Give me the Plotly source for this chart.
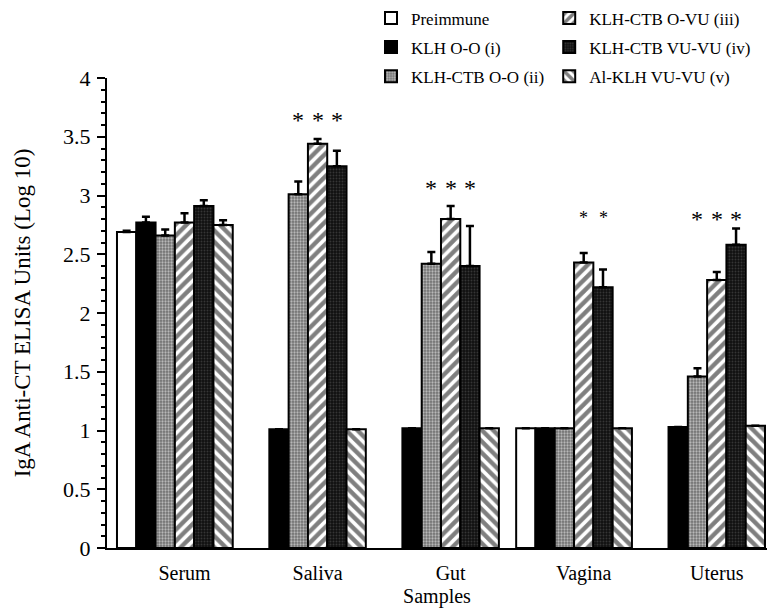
import plotly.graph_objects as go

categories = ["Serum", "Saliva", "Gut", "Vagina", "Uterus"]
series_names = ["Preimmune", "KLH O-O (i)", "KLH-CTB O-O (ii)",
                "KLH-CTB O-VU (iii)", "KLH-CTB VU-VU (iv)", "Al-KLH VU-VU (v)"]

preimmune = [2.69, None, None, 1.02, None]
klh_oo = [2.77, 1.01, 1.02, 1.02, 1.03]
ctb_oo = [2.66, 3.01, 2.42, 1.02, 1.46]
ctb_ovu = [2.77, 3.44, 2.80, 2.43, 2.28]
ctb_vuvu = [2.91, 3.25, 2.40, 2.22, 2.58]
al_vuvu = [2.75, 1.01, 1.02, 1.02, 1.04]

preimmune_err = [0.01, None, None, None, None]
klh_oo_err = [0.05, None, None, None, None]
ctb_oo_err = [0.05, 0.11, 0.10, None, 0.07]
ctb_ovu_err = [0.08, 0.04, 0.11, 0.08, 0.07]
ctb_vuvu_err = [0.05, 0.13, 0.34, 0.15, 0.14]
al_vuvu_err = [0.04, None, None, None, None]

# significance stars: (category index, series index, y, size)
stars = [(1, 2, 3.64, 24), (1, 3, 3.64, 24), (1, 4, 3.64, 24),
         (2, 2, 3.06, 24), (2, 3, 3.06, 24), (2, 4, 3.06, 24),
         (3, 3, 2.81, 18), (3, 4, 2.81, 18),
         (4, 2, 2.80, 24), (4, 3, 2.80, 24), (4, 4, 2.80, 24)]

values = [preimmune, klh_oo, ctb_oo, ctb_ovu, ctb_vuvu, al_vuvu]
errors = [preimmune_err, klh_oo_err, ctb_oo_err, ctb_ovu_err, ctb_vuvu_err, al_vuvu_err]

styles = [
    dict(color="white", pattern=dict(shape="")),
    dict(color="black", pattern=dict(shape="")),
    dict(color="#a0a0a0", pattern=dict(shape=".", fgcolor="white", bgcolor="#707070", size=3, solidity=0.45)),
    dict(color="white", pattern=dict(shape="/", fgcolor="black", bgcolor="white", size=8, solidity=0.55)),
    dict(color="#202020", pattern=dict(shape=".", fgcolor="#5a5a5a", bgcolor="#111111", size=3, solidity=0.3)),
    dict(color="white", pattern=dict(shape="\\", fgcolor="black", bgcolor="white", size=8, solidity=0.55)),
]

FONT = "Liberation Serif"
xs = list(range(len(categories)))
bargap = 0.13
n = len(series_names)
w = (1 - bargap) / n

fig = go.Figure()
for j, (name, vals, errs, st) in enumerate(zip(series_names, values, errors, styles)):
    fig.add_trace(go.Bar(
        x=xs, y=vals, name=name,
        marker=dict(color=st["color"], pattern=st["pattern"],
                    line=dict(color="black", width=2)),
        error_y=dict(type="data", array=errs, arrayminus=[0] * len(errs),
                     symmetric=False, color="black", thickness=2.5, width=4),
        legend="legend" if j < 3 else "legend2",
        legendgroup=name,
    ))

for (ci, sj, yv, sz) in stars:
    fig.add_annotation(x=ci + (sj - (n - 1) / 2) * w, y=yv, text="*",
                       showarrow=False, font=dict(family=FONT, size=sz, color="black"),
                       xref="x", yref="y")

fig.update_layout(
    width=767, height=608,
    margin=dict(l=107, r=0, t=75, b=60),
    paper_bgcolor="white", plot_bgcolor="white",
    barmode="group", bargap=bargap, bargroupgap=0,
    font=dict(family=FONT, color="black", size=16),
    legend=dict(x=0.40, y=1.165, xanchor="left", yanchor="top",
                font=dict(family=FONT, size=17), tracegroupgap=4,
                bgcolor="rgba(0,0,0,0)"),
    legend2=dict(x=0.67, y=1.165, xanchor="left", yanchor="top",
                 font=dict(family=FONT, size=17), tracegroupgap=4,
                 bgcolor="rgba(0,0,0,0)"),
    xaxis=dict(range=[-0.51, 4.45], tickvals=[i + 0.5 * w for i in xs],
               ticktext=categories, showline=True, linecolor="black", linewidth=2,
               ticks="", showgrid=False, zeroline=False, ticklabelstandoff=6,
               tickfont=dict(family=FONT, size=20),
               title=dict(text="Samples", font=dict(family=FONT, size=20), standoff=6)),
    yaxis=dict(range=[0, 4], tickvals=[0, 0.5, 1, 1.5, 2, 2.5, 3, 3.5, 4],
               ticktext=["0", "0.5", "1", "1.5", "2", "2.5", "3", "3.5", "4"],
               showline=True, linecolor="black", linewidth=2, ticks="outside",
               ticklen=8, tickwidth=2, tickcolor="black", showgrid=False, zeroline=False,
               minor=dict(dtick=0.1, ticks="outside", ticklen=4, tickwidth=1.5, tickcolor="black"),
               tickfont=dict(family=FONT, size=22), ticklabelstandoff=2,
               title=dict(text="IgA Anti-CT ELISA Units (Log 10)", font=dict(family=FONT, size=23), standoff=26)),
)

fig.write_html("out.html")
